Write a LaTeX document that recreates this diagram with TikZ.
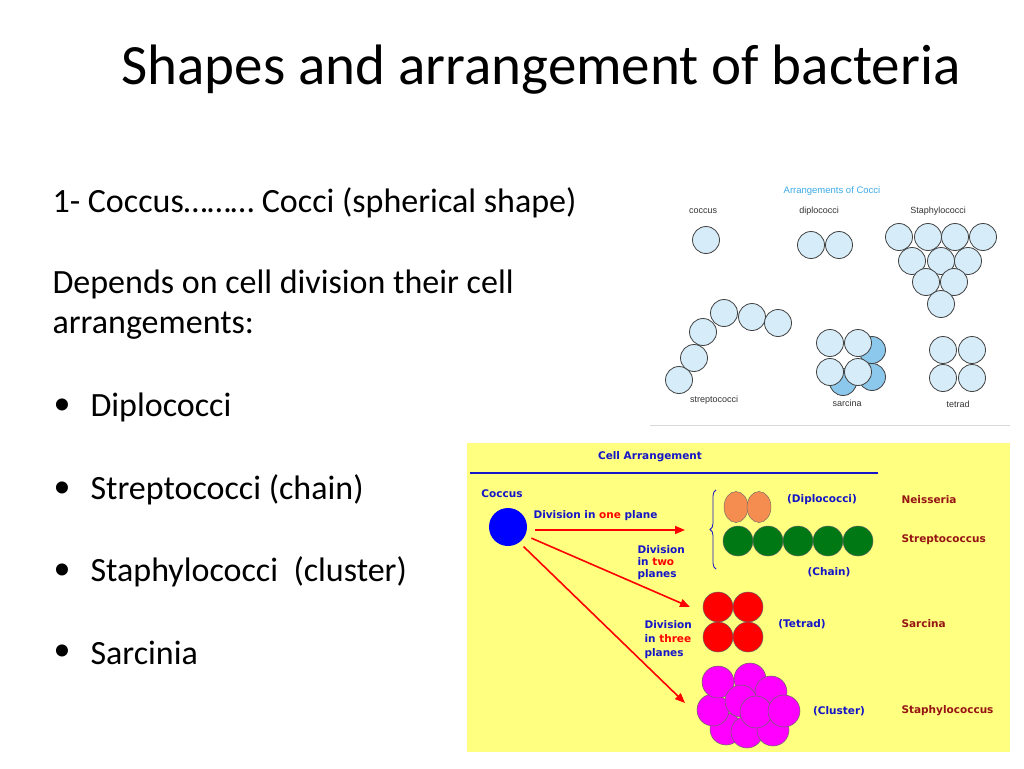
\documentclass[tikz,border=0pt]{standalone}
\usepackage{fontspec}
\setmainfont{Carlito}
\newfontfamily\labfont{Liberation Sans}
\newfontfamily\boxfont{DejaVu Sans}
\usetikzlibrary{arrows.meta, positioning, shapes.geometric, decorations.pathreplacing}
\definecolor{cellblue}{RGB}{214,236,248}
\definecolor{cellback}{RGB}{140,200,235}
\definecolor{titlecyan}{RGB}{60,170,230}
\definecolor{boxyellow}{RGB}{255,255,128}
\definecolor{navy}{RGB}{20,20,200}
\definecolor{maroon}{RGB}{150,20,20}
\definecolor{cellorange}{RGB}{245,140,80}
\definecolor{cellgreen}{RGB}{0,120,20}
\definecolor{cellpink}{RGB}{255,0,255}
\tikzset{
    cell/.style={circle, draw=black!75, fill=cellblue, line width=0.8pt, minimum size=27pt, inner sep=0pt},
    toplabel/.style={font=\labfont\fontsize{9}{10}\selectfont, text=black!80},
    bluelabel/.style={font=\boxfont\bfseries\fontsize{10.5}{13}\selectfont, text=navy, align=left},
    genus/.style={font=\boxfont\bfseries\fontsize{10.5}{13}\selectfont, text=maroon, anchor=west},
    ball/.style={circle, draw=black!60, line width=0.5pt, minimum size=30pt, inner sep=0pt},
    redarrow/.style={-{Triangle[length=10pt,width=8pt]}, red, line width=1.6pt},
    bodytext/.style={font=\fontsize{34}{40}\selectfont, anchor=west}
}
\begin{document}
\begin{tikzpicture}[x=1pt, y=-1pt]
    \useasboundingbox (0,0) rectangle (1024,768);
    \fill[white] (0,0) rectangle (1024,768);

    % Title and text
    \node[font=\fontsize{57}{60}\selectfont] (title) at (541,70) {Shapes and arrangement of bacteria};
    \node[bodytext] (line1) at (49,203) {1- Coccus……… Cocci (spherical shape)};
    \node[bodytext] (line2) at (49,284) {Depends on cell division their cell};
    \node[bodytext] (line3) at (49,326) {arrangements:};
    \foreach \y/\t [count=\i] in {407/Diplococci, 490/Streptococci (chain), 572/Staphylococci\ \ (cluster), 653/Sarcinia} {
        \node[bodytext] (bullet\i) at (50,\y) {•};
        \node[bodytext] (item\i) at (87,\y) {\t};
    }

    % Arrangements of cocci
    \node[toplabel, text=titlecyan, font=\labfont\fontsize{9.5}{10}\selectfont] (cocci_title) at (832,191) {Arrangements of Cocci};
    \node[toplabel] at (703,211) {coccus};
    \node[toplabel] at (819,211) {diplococci};
    \node[toplabel] at (938,211) {Staphylococci};
    \node[toplabel] at (714,400) {streptococci};
    \node[toplabel] at (847,403) {sarcina};
    \node[toplabel] at (958,404) {tetrad};
    \node[cell] (single) at (706,240) {};
    \foreach \x in {811,839} \node[cell] at (\x,245) {};
    \foreach \x/\y in {899/237, 928/237, 955/237, 983/237, 912/261, 941/261, 968/261, 926/282, 954/282, 941/304}
        \node[cell] at (\x,\y) {};
    \foreach \x/\y in {679/380, 694/358, 703/332, 724/313, 752/317, 778/323}
        \node[cell] at (\x,\y) {};
    \foreach \x/\y in {872/350, 872/377, 843/382}
        \node[cell, fill=cellback] at (\x,\y) {};
    \foreach \x/\y in {830/343, 858/343, 830/372, 858/372}
        \node[cell] at (\x,\y) {};
    \foreach \x/\y in {943/350, 972/350, 943/378, 972/378}
        \node[cell] at (\x,\y) {};
    \draw[black!15, line width=1pt] (650,425) -- (1010,425);

    % Cell arrangement box
    \fill[boxyellow] (467,443) rectangle (1010,752);
    \node[bluelabel] (box_title) at (650,457) {Cell Arrangement};
    \draw[navy, line width=1.5pt] (470,473) -- (878,473);
    \node[bluelabel] (coccus_label) at (502,494) {Coccus};
    \node[circle, fill=blue, minimum size=38pt, inner sep=0pt] (coccus) at (508,527) {};

    \coordinate (one_end) at (685,530);
    \coordinate (two_end) at (690,607);
    \coordinate (three_end) at (685,703);
    \draw[redarrow] (coccus.east |- one_end) ++(8,0) -- (one_end);
    \draw[redarrow] (coccus.-25) ++(6,3) -- (two_end);
    \draw[redarrow] (coccus.-45) ++(2,6) -- (three_end);
    \node[bluelabel, anchor=west] (one_plane) at (530,516) {Division in \textcolor{red}{one} plane};
    \node[bluelabel, anchor=north west, font=\boxfont\bfseries\fontsize{10.5}{12}\selectfont] (two_planes) at (634,542) {Division\\in \textcolor{red}{two}\\planes};
    \node[bluelabel, anchor=north west, font=\boxfont\bfseries\fontsize{10.5}{14}\selectfont] (three_planes) at (641,617) {Division\\in \textcolor{red}{three}\\planes};

    \draw[navy, line width=0.8pt, decorate, decoration={brace, amplitude=6pt}] (716,569) -- (716,490);

    % Diplococci and chain
    \foreach \x in {736,759}
        \node[ellipse, draw=black!60, fill=cellorange, minimum width=24pt, minimum height=31pt, inner sep=0pt] at (\x,507) {};
    \foreach \x in {738,768,798,828,858}
        \node[ball, fill=cellgreen] at (\x,541) {};
    \node[bluelabel] (diplo_label) at (822,500) {(Diplococci)};
    \node[bluelabel] (chain_label) at (829,572) {(Chain)};

    % Tetrad
    \foreach \x/\y in {718/607, 748/607, 718/637, 748/637}
        \node[ball, fill=red] at (\x,\y) {};
    \node[bluelabel] (tetrad_label) at (802,624) {(Tetrad)};

    % Cluster
    \foreach \x/\y in {726/729, 747/732, 773/730, 713/710, 718/682, 750/679, 771/692, 741/701, 756/712, 784/711}
        \node[ball, fill=cellpink, minimum size=32pt] at (\x,\y) {};
    \node[bluelabel] (cluster_label) at (839,711) {(Cluster)};

    % Genus names
    \node[genus] at (898,500) {Neisseria};
    \node[genus] at (898,540) {Streptococcus};
    \node[genus] at (898,624) {Sarcina};
    \node[genus] at (898,711) {Staphylococcus};
\end{tikzpicture}
\end{document}
